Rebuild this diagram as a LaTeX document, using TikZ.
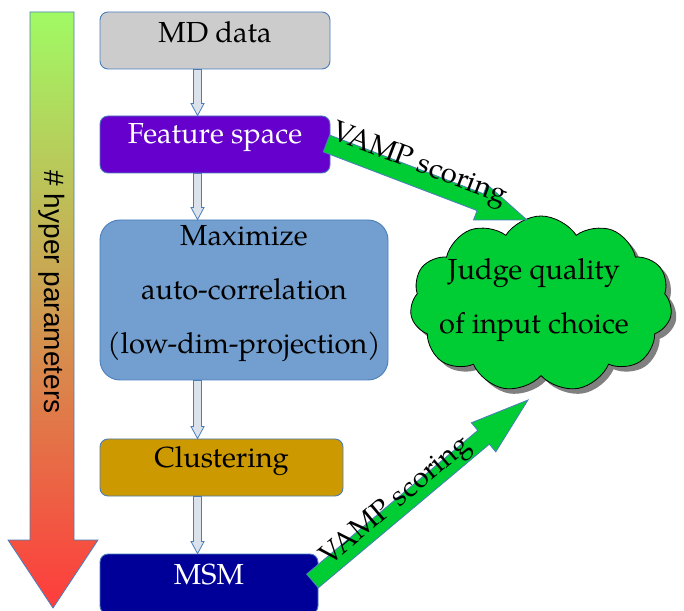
\documentclass[tikz,border=0pt]{standalone}
\usepackage{fontspec}
\IfFontExistsTF{texgyrepagella-regular.otf}
  {\setmainfont{texgyrepagella-regular.otf}}
  {\setmainfont{lmroman10-regular.otf}}
\newfontfamily\sansf{Liberation Sans}
\usetikzlibrary{calc,shapes.symbols,shadows}
\definecolor{bord}{HTML}{4A7EBB}
\definecolor{mdgray}{HTML}{CCCCCC}
\definecolor{fspurple}{HTML}{6600CC}
\definecolor{mxblue}{HTML}{729FCF}
\definecolor{clgold}{HTML}{CC9900}
\definecolor{msmblue}{HTML}{000099}
\definecolor{vgreen}{HTML}{00CC33}
\definecolor{hollow}{HTML}{DCE2EC}
\definecolor{topg}{HTML}{A0FA64}
\definecolor{botr}{HTML}{FF3C3C}
\definecolor{shadowgray}{HTML}{808080}
% style, start, end, half shaft, half head, head length
\newcommand\blockarrow[6]{%
  \path[#1] let \p1=#2, \p2=#3, \n1={atan2(\y2-\y1,\x2-\x1)}, \n2={veclen(\x2-\x1,\y2-\y1)} in
   ($(\p1)+({\n1+90}:#4)$) -- ($(\p1)+({\n1}:{\n2-#6})+({\n1+90}:#4)$)
   -- ($(\p1)+({\n1}:{\n2-#6})+({\n1+90}:#5)$) -- (\p2)
   -- ($(\p1)+({\n1}:{\n2-#6})+({\n1-90}:#5)$) -- ($(\p1)+({\n1}:{\n2-#6})+({\n1-90}:#4)$)
   -- ($(\p1)+({\n1-90}:#4)$) -- cycle;}
\begin{document}
\begin{tikzpicture}[x=1pt,y=1pt,
  box/.style={draw=bord, line width=0.9pt, rounded corners=8pt, inner sep=0pt},
  lbl/.style={font=\fontsize{29}{34}\selectfont, inner sep=0pt},
  varrow/.style={draw=bord, fill=hollow, line width=0.8pt},
  garrow/.style={draw=bord, fill=vgreen, line width=0.8pt}]
\useasboundingbox (0,0) rectangle (684,610);

% gradient arrow
\shadedraw[top color=topg, bottom color=botr, draw=bord, line width=0.8pt]
  (30,598) -- (74,598) -- (74,70) -- (98,70) -- (53,2) -- (8,70) -- (30,70) -- cycle;
\node[font=\sansf\fontsize{28}{34}\selectfont, rotate=-90, inner sep=0pt] (hp) at (52,318) {\# hyper parameters};

% boxes
\node[box, fill=mdgray, minimum width=230pt, minimum height=57pt] (md) at (215,569.5) {};
\node[lbl] (mdt) at ($(md.center)+(0,8)$) {MD data};
\node[box, fill=fspurple, minimum width=230pt, minimum height=57pt] (fs) at (215,465.5) {};
\node[lbl, text=white] (fst) at ($(fs.center)+(0,6.5)$) {Feature space};
\node[box, fill=mxblue, rounded corners=20pt, minimum width=288pt, minimum height=160pt] (mx) at (244,310) {};
\node[lbl, align=center, font=\fontsize{29}{54}\selectfont] (mxt) at ($(mx.center)+(0,6)$) {Maximize\\auto-correlation\\(low-dim-projection)};
\node[box, fill=clgold, minimum width=243pt, minimum height=57pt] (cl) at (221.5,142.5) {};
\node[lbl] (clt) at ($(cl.center)+(0,6)$) {Clustering};
\node[box, fill=msmblue, minimum width=218pt, minimum height=60pt] (msm) at (209,26) {};
\node[lbl, text=white] (msmt) at ($(msm.center)+(0,9)$) {MSM};

% hollow arrows
\blockarrow{varrow}{($(md.south west)+(98,0)$)}{($(fs.north west)+(98,0)$)}{4}{6.5}{12}
\blockarrow{varrow}{($(fs.south west)+(98,0)$)}{($(mx.north west)+(98,0)$)}{4}{6.5}{12}
\blockarrow{varrow}{($(mx.south west)+(98,0)$)}{($(cl.north west)+(98,0)$)}{4}{6.5}{12}
\blockarrow{varrow}{($(cl.south west)+(98,0)$)}{($(msm.north west)+(98,0)$)}{4}{6.5}{12}

% cloud
\node[cloud, cloud puffs=11, cloud puff arc=115, aspect=1.5, draw=black, fill=vgreen, line width=0.8pt,
  minimum width=262pt, minimum height=176pt, inner sep=0pt,
  drop shadow={shadow xshift=5pt, shadow yshift=-5pt, fill=shadowgray, opacity=1}] (cloud) at (541,306) {};
\node[lbl, align=center, font=\fontsize{29}{54}\selectfont] (ct) at (534,310) {Judge quality\\of input choice};

% green arrows
\blockarrow{garrow}{($(fs.east)+(-4,1)$)}{($(cloud.center)+(-14,84)$)}{9}{19}{50}
\blockarrow{garrow}{($(msm.east)+(-6,3)$)}{($(cloud.center)+(-13,-96)$)}{9}{19}{58}
\path ($(fs.east)+(-4,1)$) -- node[lbl, sloped, pos=0.44, above=-2pt] (v1) {VAMP scoring} ($(cloud.center)+(-14,84)$);
\path ($(msm.east)+(-6,3)$) -- node[lbl, sloped, pos=0.41, above=-8pt] (v2) {VAMP scoring} ($(cloud.center)+(-13,-96)$);
\end{tikzpicture}
\end{document}
